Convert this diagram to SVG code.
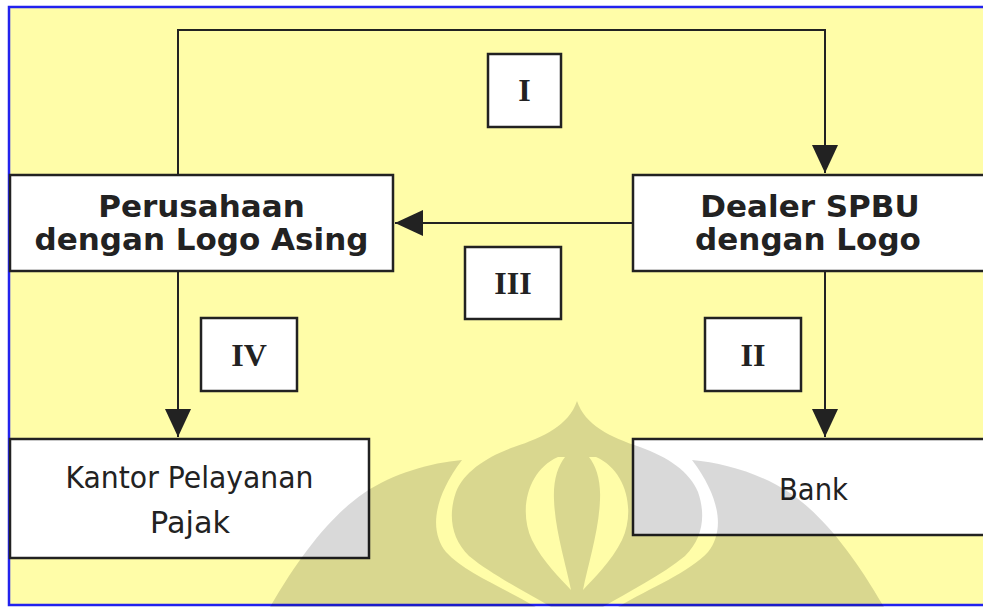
<svg xmlns="http://www.w3.org/2000/svg" width="983" height="607" viewBox="0 0 983 607">
  <style>
    .box { fill: #FFFFFF; stroke: #222222; stroke-width: 2.5; }
    .lbl { fill: #FFFFFF; stroke: #222222; stroke-width: 2.5; }
    .conn { fill: none; stroke: #222222; stroke-width: 2; }
    .bold { font-family: "DejaVu Sans", Verdana, sans-serif; font-weight: bold; font-size: 31px; fill: #222222; text-anchor: middle; }
    .plain { font-family: "Comic Sans MS", "DejaVu Sans", sans-serif; font-size: 30px; fill: #222222; text-anchor: middle; }
    .roman { font-family: "Liberation Serif", "Times New Roman", serif; font-weight: bold; font-size: 32px; fill: #222222; text-anchor: middle; }
  </style>
  <defs>
    <marker id="arrow" markerUnits="userSpaceOnUse" markerWidth="28" markerHeight="26" refX="28" refY="13" orient="auto">
      <path d="M0,0 L28,13 L0,26 Z" fill="#222222"/>
    </marker>
  </defs>

  <!-- page background and frame -->
  <rect x="0" y="0" width="983" height="607" fill="#FFFFFF"/>
  <rect x="9" y="7" width="974" height="598" fill="#FFFDA8"/>
  <path d="M983,7 H9 V605 H983" fill="none" stroke="#2222EE" stroke-width="2.5"/>

  <!-- connectors -->
  <g id="connectors">
    <path class="conn" d="M178,175 V30 H825 V173" marker-end="url(#arrow)"/>
    <path class="conn" d="M633,223 H395" marker-end="url(#arrow)"/>
    <path class="conn" d="M178,272 V437" marker-end="url(#arrow)"/>
    <path class="conn" d="M825,272 V437" marker-end="url(#arrow)"/>
  </g>

  <!-- nodes -->
  <g id="node-perusahaan">
    <rect class="box" x="10" y="175" width="383" height="96"/>
    <text class="bold" x="201.5" y="217">Perusahaan</text>
    <text class="bold" x="201.5" y="250">dengan Logo Asing</text>
  </g>
  <g id="node-dealer">
    <rect class="box" x="633" y="175" width="360" height="96"/>
    <text class="bold" x="810" y="217">Dealer SPBU</text>
    <text class="bold" x="808" y="250">dengan Logo</text>
  </g>
  <g id="node-kantor">
    <rect class="box" x="10" y="439" width="359" height="119"/>
    <text class="plain" x="189.5" y="488" textLength="248" lengthAdjust="spacingAndGlyphs">Kantor Pelayanan</text>
    <text class="plain" x="190" y="533" textLength="80" lengthAdjust="spacingAndGlyphs">Pajak</text>
  </g>
  <g id="node-bank">
    <rect class="box" x="633" y="439" width="360" height="96"/>
    <text class="plain" x="813.5" y="500" textLength="69" lengthAdjust="spacingAndGlyphs">Bank</text>
  </g>

  <!-- flow labels -->
  <g id="label-I">
    <rect class="lbl" x="488" y="54" width="73" height="73"/>
    <text class="roman" x="524.5" y="101">I</text>
  </g>
  <g id="label-III">
    <rect class="lbl" x="465" y="247" width="96" height="72"/>
    <text class="roman" x="513" y="294">III</text>
  </g>
  <g id="label-IV">
    <rect class="lbl" x="201" y="318" width="96" height="73"/>
    <text class="roman" x="249" y="366">IV</text>
  </g>
  <g id="label-II">
    <rect class="lbl" x="705" y="318" width="96" height="73"/>
    <text class="roman" x="753" y="366">II</text>
  </g>

  <!-- faint watermark -->
  <g id="watermark" fill="#000000" fill-opacity="0.15">
    <path fill-rule="evenodd" d="M577,401 C585,425 610,437 640,447 C668,457 690,472 698,492 C706,515 703,538 685,556 C662,575 628,592 603,607 L551,607 C526,592 492,575 469,556 C451,538 448,515 456,492 C464,472 486,457 514,447 C544,437 569,425 577,401 Z M558,457 C528,470 518,510 532,540 C543,562 560,578 571,590 C566,565 555,530 554,500 C553,480 558,466 565,457 Z M596,457 C626,470 636,510 622,540 C611,562 594,578 583,590 C588,565 599,530 600,500 C601,480 596,466 589,457 Z"/>
    <path d="M692,460 C724,463 760,473 790,493 C822,515 852,552 884,607 L618,607 C650,588 690,572 708,552 C724,532 722,500 692,460 Z"/>
    <path d="M462,460 C430,463 394,473 364,493 C332,515 302,552 270,607 L536,607 C504,588 464,572 446,552 C430,532 432,500 462,460 Z"/>
  </g>
</svg>
